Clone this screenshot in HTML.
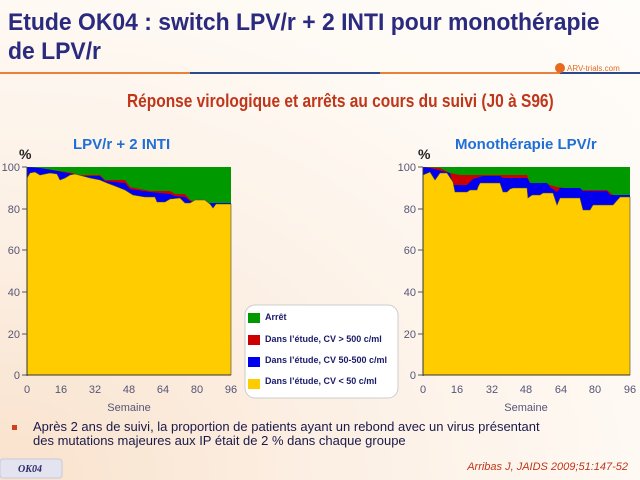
<!DOCTYPE html>
<html><head><meta charset="utf-8"><style>
body{margin:0;width:640px;height:480px;overflow:hidden;font-family:"Liberation Sans",sans-serif;}
.bg{position:absolute;left:0;top:0;width:640px;height:480px;background:radial-gradient(ellipse at 0% 100%,#f9e2cc 0%,#fcefe3 35%,#fef9f3 70%,#fffdfa 100%);}
.t{position:absolute;white-space:nowrap;}
</style></head><body>
<div class="bg"></div>
<svg width="640" height="480" style="position:absolute;left:0;top:0">
<line x1="0" y1="73" x2="190" y2="73" stroke="#e8823a" stroke-width="2"/>
<line x1="190" y1="73" x2="380" y2="73" stroke="#2b4a8c" stroke-width="2"/>
<line x1="380" y1="73" x2="560" y2="73" stroke="#e8823a" stroke-width="2"/>
<line x1="560" y1="73" x2="640" y2="73" stroke="#2b4a8c" stroke-width="2"/>
<circle cx="560" cy="68" r="5" fill="#e86a20"/>
<text x="567" y="71" font-size="8" fill="#e86a20" font-family="Liberation Sans">ARV-trials.com</text>

<g>
<rect x="27" y="167" width="204" height="208" fill="#009900"/>
<polygon fill="#cc0000" points="27,375 27,167 40,168 52,170 73,173 80,175 100,175 105,180 125,180 130,187 150,191 170,191 175,194 185,194 190,200 200,203 231,203 231,375"/>
<polygon fill="#0000ee" points="27,375 27,167 40,168 52,170 73,174 80,176 100,176 105,181 125,183 130,189 150,192 170,194 175,196 185,197 190,201 200,203 231,203 231,375"/>
<polygon fill="#ffcc00" stroke="#444" stroke-width="0.6" points="27,375 27,178 30,173 35,172 40,175 45,174 50,173 57,174 60,180 65,178 70,175 75,174 90,178 100,180 107,183 115,186 125,190 133,195 145,197 155,197 157,202 165,202 170,199 180,198 185,203 190,203 195,200 205,200 210,204 213,208 216,204 231,204 231,375"/>
<g stroke="#333" stroke-width="1">
<line x1="27" y1="167" x2="27" y2="376"/><line x1="27" y1="375" x2="231" y2="375"/>
</g>
</g>
<g>
<rect x="423" y="167" width="207" height="208" fill="#009900"/>
<polygon fill="#cc0000" points="423,375 423,167 440,168 450,173 460,175 527,175 530,183 543,183 557,187 580,190 607,190 613,195 630,195 630,375"/>
<polygon fill="#0000ee" points="423,375 423,167 430,168 450,173 453,185 467,185 473,179 483,176 500,176 503,178 527,178 530,183 547,183 550,187 557,192 560,188 580,188 583,191 607,191 610,195 630,195 630,375"/>
<polygon fill="#ffcc00" stroke="#444" stroke-width="0.6" points="423,375 423,175 430,172 435,180 440,173 447,173 453,182 455,192 467,192 470,190 477,190 478,187 480,183 500,183 503,192 507,192 510,189 513,188 527,188 528,198 532,195 540,195 543,193 553,193 557,205 560,198 580,198 583,210 590,210 593,205 613,205 620,197 630,197 630,375"/>
<g stroke="#333" stroke-width="1">
<line x1="423" y1="167" x2="423" y2="376"/><line x1="423" y1="375" x2="630" y2="375"/>
</g>
</g>
<g stroke="#555" stroke-width="1">
<line x1="22" y1="167" x2="27" y2="167"/><line x1="22" y1="209" x2="27" y2="209"/><line x1="22" y1="250" x2="27" y2="250"/><line x1="22" y1="292" x2="27" y2="292"/><line x1="22" y1="334" x2="27" y2="334"/><line x1="22" y1="375" x2="27" y2="375"/>
<line x1="418" y1="167" x2="423" y2="167"/><line x1="418" y1="209" x2="423" y2="209"/><line x1="418" y1="250" x2="423" y2="250"/><line x1="418" y1="292" x2="423" y2="292"/><line x1="418" y1="334" x2="423" y2="334"/><line x1="418" y1="375" x2="423" y2="375"/>
</g>
<g font-size="11" fill="#555577" font-family="Liberation Sans" text-anchor="end">
<text x="20" y="171">100</text><text x="20" y="213">80</text><text x="20" y="254">60</text><text x="20" y="296">40</text><text x="20" y="338">20</text><text x="20" y="379">0</text>
<text x="416" y="171">100</text><text x="416" y="213">80</text><text x="416" y="254">60</text><text x="416" y="296">40</text><text x="416" y="338">20</text><text x="416" y="379">0</text>
</g>
<g font-size="11" fill="#555577" font-family="Liberation Sans" text-anchor="middle">
<text x="27" y="393">0</text><text x="61" y="393">16</text><text x="95" y="393">32</text><text x="129" y="393">48</text><text x="163" y="393">64</text><text x="197" y="393">80</text><text x="231" y="393">96</text>
<text x="423" y="393">0</text><text x="457" y="393">16</text><text x="492" y="393">32</text><text x="526" y="393">48</text><text x="561" y="393">64</text><text x="595" y="393">80</text><text x="630" y="393">96</text>
<text x="129" y="411">Semaine</text><text x="526" y="411">Semaine</text>
</g>
<rect x="245" y="305" width="153" height="93" rx="10" fill="#fff" stroke="#ccc"/>
<rect x="248" y="313" width="12" height="10" fill="#009900"/>
<rect x="248" y="335" width="12" height="10" fill="#cc0000"/>
<rect x="248" y="357" width="12" height="10" fill="#0000ee"/>
<rect x="248" y="379" width="12" height="10" fill="#ffcc00"/>
<g font-size="9" font-weight="bold" fill="#1a1a6a" font-family="Liberation Sans">
<text x="265" y="320">Arrêt</text>
<text x="265" y="342">Dans l’étude, CV &gt; 500 c/ml</text>
<text x="265" y="363">Dans l’étude, CV 50-500 c/ml</text>
<text x="265" y="384">Dans l’étude, CV &lt; 50 c/ml</text>
</g>
<rect x="12" y="425" width="5" height="5" fill="#d04020"/>
<rect x="0" y="459" width="62" height="19" rx="3" fill="#e4e4f0" stroke="#c8c8dc"/>
<text x="30" y="472" font-size="10" font-style="italic" font-weight="bold" fill="#2a2a6a" font-family="Liberation Serif" text-anchor="middle">OK04</text>
</svg>
<div class="t" style="left:8px;top:8px;font-size:24px;font-weight:bold;color:#2a2a7e;line-height:29px;transform:scaleX(0.955);transform-origin:0 0;">Etude OK04 : switch LPV/r + 2 INTI pour monothérapie<br>de LPV/r</div>
<div class="t" style="left:127px;top:91px;font-size:18px;font-weight:bold;color:#c0361a;transform:scaleX(0.86);transform-origin:0 0;">Réponse virologique et arrêts au cours du suivi (J0 à S96)</div>
<div class="t" style="left:73px;top:136px;font-size:15px;font-weight:bold;color:#1f6fd8;">LPV/r + 2 INTI</div>
<div class="t" style="left:455px;top:136px;font-size:15px;font-weight:bold;color:#1f6fd8;">Monothérapie LPV/r</div>
<div class="t" style="left:19px;top:146px;font-size:14px;font-weight:bold;color:#222;">%</div>
<div class="t" style="left:418px;top:146px;font-size:14px;font-weight:bold;color:#222;">%</div>
<div class="t" style="left:33px;top:420px;font-size:13px;color:#1a1a4a;line-height:14px;">Après 2 ans de suivi, la proportion de patients ayant un rebond avec un virus présentant<br>des mutations majeures aux IP était de 2 % dans chaque groupe</div>
<div class="t" style="right:12px;top:461px;font-size:11px;font-style:italic;color:#c0361a;">Arribas J, JAIDS 2009;51:147-52</div>
</body></html>
